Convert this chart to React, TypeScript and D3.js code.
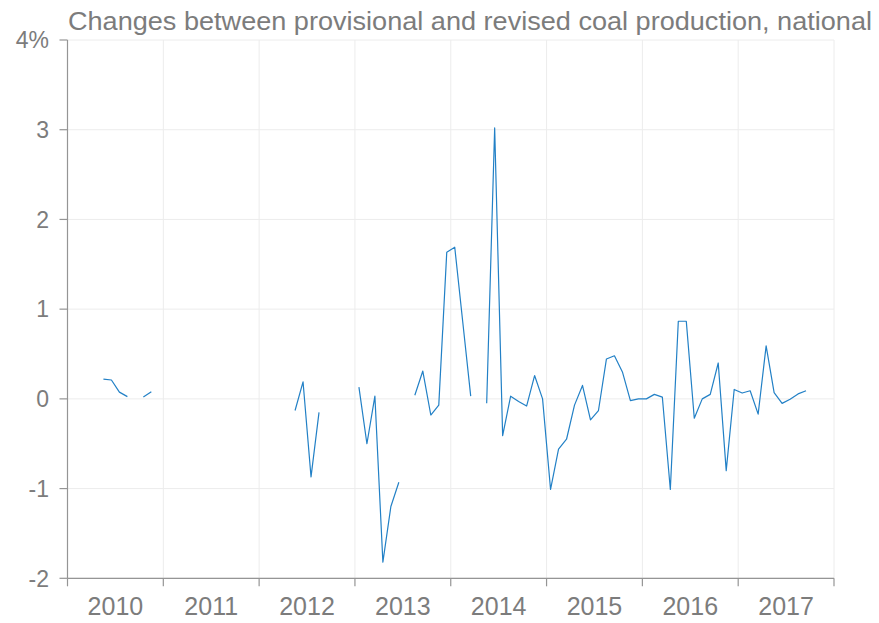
import React, { useEffect } from "react";
import * as d3 from "d3";

// Monthly % change between provisional and revised coal production (Jan..Dec), null = no data
const values2010: (number | null)[] = [null, null, null, null, 0.22, 0.21, 0.075, 0.025, null, 0.02, 0.08, null];
const values2011: (number | null)[] = [null, null, null, null, null, null, null, null, null, null, null, null];
const values2012: (number | null)[] = [null, null, null, null, -0.13, 0.19, -0.87, -0.15, null, null, null, null];
const values2013: (number | null)[] = [0.13, -0.5, 0.03, -1.82, -1.2, -0.93, null, 0.04, 0.31, -0.18, -0.07, 1.635];
const values2014: (number | null)[] = [1.69, 0.86, 0.03, null, -0.05, 3.02, -0.41, 0.03, -0.03, -0.08, 0.26, 0.0];
const values2015: (number | null)[] = [-1.01, -0.56, -0.45, -0.07, 0.15, -0.235, -0.13, 0.445, 0.48, 0.3, -0.02, 0.0];
const values2016: (number | null)[] = [0.0, 0.05, 0.02, -1.01, 0.865, 0.865, -0.215, 0.0, 0.05, 0.4, -0.8, 0.105];
const values2017: (number | null)[] = [0.065, 0.09, -0.17, 0.59, 0.07, -0.05, -0.005, 0.055, 0.09];

const years = [2010, 2011, 2012, 2013, 2014, 2015, 2016, 2017];
const yearLabels = ["2010", "2011", "2012", "2013", "2014", "2015", "2016", "2017"];
const yTicks = [-2, -1, 0, 1, 2, 3, 4];
const title = "Changes between provisional and revised coal production, national";

const W = 879;
const H = 623;
const left = 67.5;
const right = 834;
const top = 40;
const bottom = 578.3;

const textColor = "#7c7c7c";
const axisColor = "#959595";
const gridColor = "#ececec";
const lineColor = "#2280c6";
const font = "'Liberation Sans', Arial, Helvetica, sans-serif";

export default function App() {
  useEffect(() => {
    document.body.style.margin = "0";
  }, []);

  const x = d3.scaleLinear().domain([2010, 2018]).range([left, right]);
  const y = d3.scaleLinear().domain([-2, 4]).range([bottom, top]);

  const allYears = [values2010, values2011, values2012, values2013, values2014, values2015, values2016, values2017];
  const data: { t: number; v: number | null }[] = [];
  allYears.forEach((arr, yi) => {
    arr.forEach((v, m) => {
      data.push({ t: years[yi] + (m + 0.5) / 12, v });
    });
  });

  const line = d3
    .line<{ t: number; v: number | null }>()
    .defined((d) => d.v !== null)
    .x((d) => x(d.t))
    .y((d) => y(d.v as number));

  const xBounds = [...years, 2018];

  return (
    <svg width={W} height={H} style={{ display: "block" }} fontFamily={font}>
      {/* horizontal grid */}
      {yTicks.map((t) => (
        <line key={"hg" + t} x1={left} x2={right} y1={y(t)} y2={y(t)} stroke={gridColor} strokeWidth={1} />
      ))}
      {/* vertical grid */}
      {xBounds.slice(1).map((yr) => (
        <line key={"vg" + yr} x1={x(yr)} x2={x(yr)} y1={top} y2={bottom} stroke={gridColor} strokeWidth={1} />
      ))}
      {/* y axis */}
      <line x1={left} x2={left} y1={top} y2={bottom} stroke={axisColor} strokeWidth={1.2} />
      {yTicks.map((t) => (
        <g key={"yt" + t}>
          <line x1={left - 8} x2={left} y1={y(t)} y2={y(t)} stroke={axisColor} strokeWidth={1.2} />
          <text x={49} y={y(t)} dy="0.36em" textAnchor="end" fontSize={23} fill={textColor}>
            {t === 4 ? "4%" : String(t)}
          </text>
        </g>
      ))}
      {/* x axis */}
      <line x1={left} x2={right} y1={bottom} y2={bottom} stroke={axisColor} strokeWidth={1.2} />
      {xBounds.map((yr) => (
        <line key={"xt" + yr} x1={x(yr)} x2={x(yr)} y1={bottom} y2={bottom + 8} stroke={axisColor} strokeWidth={1.2} />
      ))}
      {years.map((yr, i) => (
        <text key={"xl" + yr} x={x(yr + 0.5)} y={615} textAnchor="middle" fontSize={25} fill={textColor}>
          {yearLabels[i]}
        </text>
      ))}
      {/* data line */}
      <path d={line(data) || ""} fill="none" stroke={lineColor} strokeWidth={1.2} strokeLinejoin="round" />
      {/* title */}
      <text x={68} y={30} fontSize={25} fill={textColor} textLength={804} lengthAdjust="spacingAndGlyphs">
        {title}
      </text>
    </svg>
  );
}
